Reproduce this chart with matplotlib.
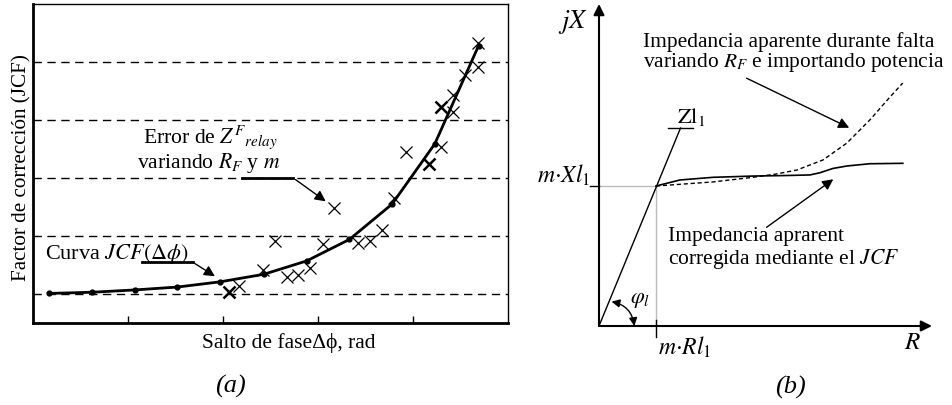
import matplotlib
matplotlib.use("Agg")
import matplotlib.pyplot as plt

plt.rcParams['font.family'] = ['Liberation Serif', 'DejaVu Serif']
plt.rcParams['mathtext.fontset'] = 'stix'

# (a) curva JCF y errores
jcf_x = [0.17, 0.62, 1.07, 1.52, 1.97, 2.43, 2.88, 3.33, 3.78, 4.23, 4.69]
jcf_y = [1.01, 1.03, 1.07, 1.12, 1.21, 1.34, 1.57, 1.94, 2.55, 3.59, 5.28]

err_x = [2.17, 2.42, 2.55, 2.67, 2.79, 2.92, 3.05, 3.17, 3.42, 3.55, 3.67,
         3.80, 3.93, 4.29, 4.42, 4.42, 4.55, 4.68, 4.68]
err_y = [1.13, 1.41, 1.91, 1.30, 1.32, 1.45, 1.86, 2.49, 1.88, 1.92, 2.10,
         2.66, 3.45, 3.54, 4.43, 4.14, 4.78, 4.92, 5.33]
# cruces repetidas (se ven mas gruesas)
err2_x = [2.06, 4.17, 4.29]
err2_y = [1.04, 3.25, 4.23]

grid_y = [1, 2, 3, 4, 5]
xticks = [1, 2, 3, 4]

# (b) plano R-X, unidades: m*Rl1 = 1, m*Xl1 = 1
corr_R = [1.0, 1.42, 2.0, 2.70, 3.30, 3.70, 3.88, 4.10, 4.35, 4.75, 5.33]
corr_X = [1.0, 1.043, 1.062, 1.071, 1.075, 1.079, 1.095, 1.125, 1.143, 1.159, 1.162]
falta_R = [1.0, 2.0, 2.70, 3.10, 3.47, 3.93, 4.35, 4.75, 5.11, 5.33]
falta_X = [1.0, 1.029, 1.062, 1.085, 1.114, 1.186, 1.307, 1.471, 1.638, 1.736]
zl_R = [0, 1.43]
zl_X = [0, 1.414]

W, H = 952, 405
fig = plt.figure(figsize=(W / 100, H / 100), dpi=100)


def px(x, y):
    return x / W, 1 - y / H


def ftext(x, y, s, **kw):
    kw.setdefault('fontsize', 16)
    kw.setdefault('va', 'center')
    fig.text(*px(x, y), s, **kw)


# ---------- panel (a) ----------
ax = fig.add_axes([33 / W, (H - 323) / H, 475 / W, 319 / H])
ax.set_xlim(0, 5)
ax.set_ylim(0.5, 6.0)
for g in grid_y:
    ax.axhline(g, color='black', lw=1, ls=(0, (6, 4)))
ax.plot(jcf_x, jcf_y, color='black', lw=2, marker='o', ms=3.5)
ax.plot(err_x, err_y, ls='none', marker='x', ms=8, mew=0.9, color='black')
ax.plot(err2_x, err2_y, ls='none', marker='x', ms=8, mew=1.8, color='black')
ax.set_xticks(xticks)
ax.set_xticklabels([])
ax.set_yticks([])
ax.tick_params(axis='x', direction='in', length=5, width=1)
for s in ax.spines.values():
    s.set_linewidth(1.0)
ax.spines['left'].set_linewidth(2)
ax.spines['bottom'].set_linewidth(2)

# leaders
ax.plot([2.2, 2.74], [3.0, 3.0], color='black', lw=2)
ax.annotate('', xy=(3.105, 2.57), xytext=(2.74, 3.0),
            arrowprops=dict(arrowstyle='-|>', color='black', lw=1, mutation_scale=16))
ax.plot([1.15, 1.68], [1.55, 1.55], color='black', lw=2)
ax.annotate('', xy=(1.94, 1.28), xytext=(1.68, 1.55),
            arrowprops=dict(arrowstyle='-|>', color='black', lw=1, mutation_scale=16))

ftext(143, 137, r'Error de $Z^{F}{}_{relay}$', fontsize=15.6)
ftext(137, 163, r'variando $R_F$ y $m$', fontsize=15.6)
ftext(45, 254, r'Curva $JCF(\Delta\phi)$', fontsize=16)
ftext(289, 343, 'Salto de fase\u0394\u03d5, rad', ha='center', fontsize=15.5)
ftext(22, 168, 'Factor de corrección (JCF)', ha='center', rotation=90, fontsize=15.2)
ftext(230, 386, '(a)', ha='center', style='italic', fontsize=19)

# ---------- panel (b) ----------
x0, y0 = 599, 326
ux, uy = 57, 140
bx = fig.add_axes([x0 / W, (H - y0) / H, (W - x0) / W, y0 / H])
bx.set_xlim(0, (W - x0) / ux)
bx.set_ylim(0, y0 / uy)
bx.axis('off')

bx.annotate('', xy=((932 - x0) / ux, 0), xytext=(0, 0),
            arrowprops=dict(arrowstyle='-|>', color='black', lw=1.5, mutation_scale=16,
                            shrinkA=0, shrinkB=0))
bx.annotate('', xy=(0, (y0 - 4) / uy), xytext=(0, 0),
            arrowprops=dict(arrowstyle='-|>', color='black', lw=1.5, mutation_scale=16,
                            shrinkA=0, shrinkB=0))
bx.plot([0, 1], [1, 1], color='#bbbbbb', lw=1)
bx.plot([1, 1], [0, 1], color='#bbbbbb', lw=1)
bx.plot([-9 / ux, 0], [1, 1], color='black', lw=1, clip_on=False)
bx.plot([1, 1], [6 / uy, -11 / uy], color='black', lw=1, clip_on=False)

bx.plot(zl_R, zl_X, color='black', lw=1)
bx.plot([1.21, 1.65], [1.414, 1.414], color='black', lw=1)
bx.plot(corr_R, corr_X, color='black', lw=1.2)
bx.plot(falta_R, falta_X, color='black', lw=1, ls=(0, (3, 2)))

bx.annotate('', xy=(4.39, 1.416), xytext=(2.59, 1.77),
            arrowprops=dict(arrowstyle='-|>', color='black', lw=1, mutation_scale=16,
                            shrinkA=0, shrinkB=0))
bx.annotate('', xy=(4.11, 1.048), xytext=(2.94, 0.705),
            arrowprops=dict(arrowstyle='-|>', color='black', lw=1, mutation_scale=16,
                            shrinkA=0, shrinkB=0))
bx.annotate('', xy=(0.62, 0.0), xytext=(0.22, 0.174),
            arrowprops=dict(arrowstyle='<|-|>', color='black', lw=1, mutation_scale=12,
                            shrinkA=0, shrinkB=0, connectionstyle='arc3,rad=-0.35'))

ftext(643, 42, 'Impedancia aparente durante falta', fontsize=15.4)
ftext(643, 63, r'variando $R_F$ e importando potencia', fontsize=15.4)
ftext(668, 237, 'Impedancia aprarent', fontsize=15.5)
ftext(668, 259, r'corregida mediante el $JCF$', fontsize=15.5)
ftext(573, 22, r'$jX$', ha='center', fontsize=19)
ftext(590, 175, r'$m{\cdot}Xl_1$', ha='right', fontsize=17)
ftext(677, 117, r'$\mathrm{Zl}_{1}$', fontsize=16)
ftext(658, 347, r'$m{\cdot}Rl_1$', fontsize=17)
ftext(913, 343, r'$R$', ha='center', fontsize=18)
ftext(640, 300, r'$\varphi_l$', ha='center', fontsize=16)
ftext(790, 387, '(b)', ha='center', style='italic', fontsize=19)

fig.savefig('out.png', dpi=100)
